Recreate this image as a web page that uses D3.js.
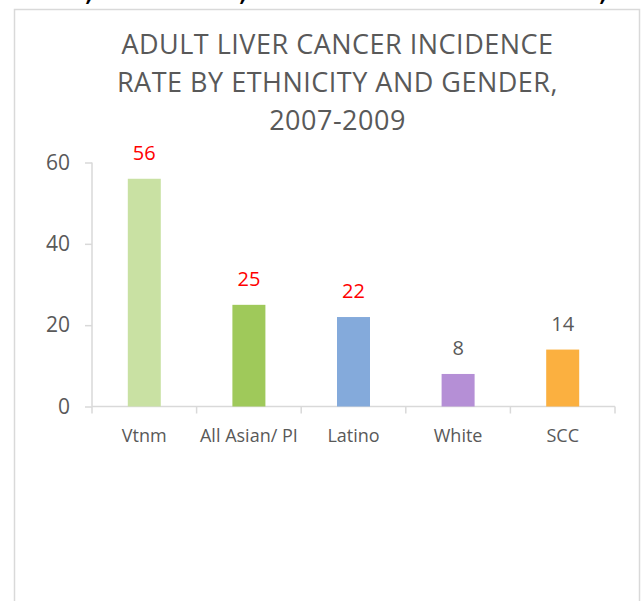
<!DOCTYPE html>
<html>
<head>
<meta charset="utf-8">
<script src="https://cdn.jsdelivr.net/npm/d3@7"></script>
<style>
  body { margin: 0; background: #fff; }
  svg { display: block; font-family: "Open Sans", sans-serif; }
</style>
</head>
<body>
<svg id="chart" width="644" height="601"></svg>
<script>
// chart data
const categories = ["Vtnm", "All Asian/ PI", "Latino", "White", "SCC"];
const values = [56, 25, 22, 8, 14];
const barColors = ["#C9E1A3", "#9FC95A", "#84AADB", "#B58FD6", "#FBB040"];
const labelColors = ["#FF0000", "#FF0000", "#FF0000", "#595959", "#595959"];
const yTicks = [0, 20, 40, 60];
const titleLines = ["ADULT LIVER CANCER INCIDENCE", "RATE BY ETHNICITY AND GENDER,", "2007-2009"];

const svg = d3.select("#chart");

// cut-off slide text above the chart (only commas peek in)
svg.append("g")
  .selectAll("text")
  .data([87, 241, 601])
  .join("text")
  .attr("x", (d) => d).attr("y", 1)
  .attr("font-size", 22).attr("font-weight", "bold").attr("font-style", "italic")
  .attr("fill", "#000")
  .text(",");

// frame of the chart area
svg.append("rect")
  .attr("x", 14.5).attr("y", 9.5)
  .attr("width", 625).attr("height", 620)
  .attr("fill", "#fff")
  .attr("stroke", "#D9D9D9")
  .attr("stroke-width", 1.5);

// title
svg.append("g")
  .selectAll("text")
  .data(titleLines)
  .join("text")
  .attr("x", 337.5)
  .attr("y", (_, i) => 54 + i * 38)
  .attr("text-anchor", "middle")
  .attr("fill", "#595959")
  .attr("font-size", 27)
  .attr("letter-spacing", 0.5)
  .text((d) => d);

const x = d3.scaleBand().domain(categories).range([92, 615]).paddingInner(0).paddingOuter(0);
const y = d3.scaleLinear().domain([0, 60]).range([406.5, 162.5]);

// y axis
const yAxis = svg.append("g")
  .attr("transform", "translate(92,0)")
  .call(d3.axisLeft(y).tickValues(yTicks).tickSize(7).tickPadding(15));
yAxis.selectAll("line, path").attr("stroke", "#D9D9D9").attr("stroke-width", 1.5);
yAxis.select(".domain").attr("d", `M0,${y(0)}V${y(60)}`);
yAxis.selectAll("text").attr("fill", "#595959").attr("font-size", 21)
  .attr("font-family", "Open Sans, sans-serif");

// x axis with ticks at category boundaries
const xg = svg.append("g").attr("transform", `translate(0,${y(0)})`);
xg.append("line")
  .attr("x1", 92).attr("x2", 615)
  .attr("stroke", "#D9D9D9").attr("stroke-width", 1.5);
xg.selectAll(".bound")
  .data(categories.map((c) => x(c)).concat([x.range()[1]]))
  .join("line")
  .attr("class", "bound")
  .attr("x1", (d) => d).attr("x2", (d) => d)
  .attr("y1", 0).attr("y2", 7)
  .attr("stroke", "#D9D9D9").attr("stroke-width", 1.5);
xg.selectAll(".cat")
  .data(categories)
  .join("text")
  .attr("class", "cat")
  .attr("x", (d) => x(d) + x.bandwidth() / 2)
  .attr("y", 35)
  .attr("text-anchor", "middle")
  .attr("fill", "#595959")
  .attr("font-size", 18)
  .text((d) => d);

// bars
const barW = 33;
svg.append("g")
  .selectAll("rect")
  .data(values)
  .join("rect")
  .attr("x", (_, i) => x(categories[i]) + x.bandwidth() / 2 - barW / 2)
  .attr("y", (d) => y(d))
  .attr("width", barW)
  .attr("height", (d) => y(0) - y(d))
  .attr("fill", (_, i) => barColors[i]);

// value labels
svg.append("g")
  .selectAll("text")
  .data(values)
  .join("text")
  .attr("x", (_, i) => x(categories[i]) + x.bandwidth() / 2)
  .attr("y", (d) => y(d) - 19)
  .attr("text-anchor", "middle")
  .attr("fill", (_, i) => labelColors[i])
  .attr("font-size", 20)
  .text((d) => d);
</script>
</body>
</html>
